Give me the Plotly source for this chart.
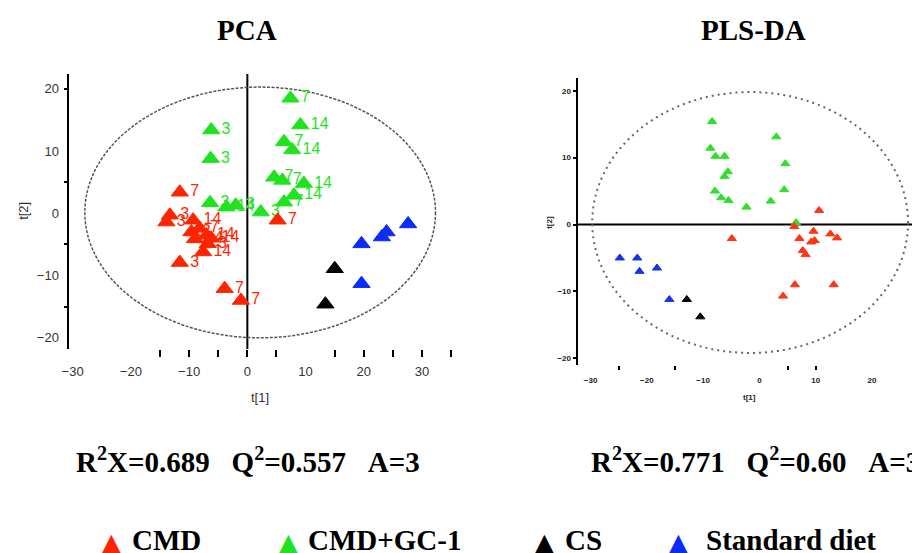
import plotly.graph_objects as go

W, H = 912, 553

# ---- colours ----
RED, GREEN, BLACK, BLUE = "#ff2400", "#1fe31f", "#000000", "#0a2cf5"

# ---- PCA scores (t[1], t[2]) with day labels ----
pca_cmd_x = [-11.6, -13.3, -13.9, -9.3, -9.6, -9.0, -7.0, -6.8, -7.6, -11.6, -3.9, -1.1, 5.2, -8.2, -6.2]
pca_cmd_y = [3.4, -0.3, -1.4, -1.1, -3.0, -4.1, -3.5, -4.9, -6.2, -7.9, -12.1, -14.0, -1.1, -2.4, -4.0]
pca_cmd_lbl = ["7", "3", "3", "14", "3", "14", "14", "3", "14", "3", "7", "7", "7", "7", "14"]

pca_gc_x = [-6.2, -6.3, -6.4, 2.3, -2.0, 7.4, 6.3, 4.6, 6.0, 6.3, 9.1, 7.7, 9.7, 8.0, -3.6]
pca_gc_y = [13.4, 8.8, 1.7, 0.2, 1.3, 18.5, 11.5, 5.8, 5.3, 1.8, 14.2, 10.2, 4.8, 2.9, 1.0]
pca_gc_lbl = ["3", "3", "3", "3", "3", "7", "7", "7", "7", "7", "14", "14", "14", "14", "14"]

pca_cs_x = [15.0, 13.4]
pca_cs_y = [-8.9, -14.6]

pca_std_x = [19.6, 23.1, 23.9, 27.6, 19.6]
pca_std_y = [-4.9, -3.8, -3.0, -1.7, -11.3]

# ---- PLS-DA scores ----
pls_cmd_x = [-4.9, 10.6, 6.2, 7.1, 9.6, 9.2, 9.8, 12.6, 13.8, 7.7, 8.2, 6.3, 4.2, 13.2]
pls_cmd_y = [-2.1, 2.1, -0.3, -2.1, -1.0, -2.6, -2.4, -1.4, -2.0, -3.9, -4.5, -9.0, -10.7, -9.0]

pls_gc_x = [-8.4, 3.0, -8.7, -7.8, -6.2, 4.6, -5.6, -6.2, -7.9, -6.8, -5.5, -2.3, 2.0, 4.4, 6.5]
pls_gc_y = [15.4, 13.1, 11.4, 10.2, 10.2, 9.1, 7.9, 7.2, 5.0, 4.0, 3.6, 2.6, 3.5, 5.2, 0.3]

pls_cs_x = [-12.9, -10.5]
pls_cs_y = [-11.2, -13.8]

pls_std_x = [-24.8, -21.7, -21.3, -18.2, -16.0]
pls_std_y = [-5.0, -5.0, -7.0, -6.5, -11.2]

# ---- axes / ellipses ----
pca_xlabels = [-30, -20, -10, 0, 10, 20, 30]
pca_xmarks = [-15, -10, -5, 0, 5, 15, 20, 25, 30, 35]
pca_ylabels = [-20, -10, 0, 10, 20]
pca_ymarks = [20, 5, -5, -15]
pca_xrange = [-30.7, 35.4]
pca_yrange = [-21.8, 22.4]
pca_ellipse = dict(x0=-27.9, x1=32.3, y0=-20.0, y1=20.3)

pls_xlabels = [-30, -20, -10, 0, 10, 20]
pls_xmarks = [-25, -15, 5, 10]
pls_ylabels = [-20, -10, 0, 10, 20]
pls_xrange = [-32.3, 27.1]
pls_yrange = [-21.0, 21.9]
pls_ellipse = dict(x0=-29.7, x1=26.4, y0=-19.2, y1=19.8)

stats_pca = "R<sup>2</sup>X=0.689\u00a0\u00a0\u00a0Q<sup>2</sup>=0.557\u00a0\u00a0\u00a0A=3"
stats_pls = "R<sup>2</sup>X=0.771\u00a0\u00a0\u00a0Q<sup>2</sup>=0.60\u00a0\u00a0\u00a0A=3"

legend_items = [("CMD", RED), ("CMD+GC-1", GREEN), ("CS", BLACK), ("Standard diet", BLUE)]
legend_tri_px = [105, 284, 542, 677]
legend_txt_px = [124, 301, 560, 702]


def px(xp):
    return xp / W


def py(yp):
    return (H - yp) / H


fig = go.Figure()

LBL_FONT = "Liberation Sans, Arial, sans-serif"


def pca_trace(x, y, color, labels=None, size=15):
    kw = dict(x=x, y=y, xaxis="x", yaxis="y", showlegend=False,
              marker=dict(symbol="triangle-up", size=size, color=color,
                          line=dict(color=color, width=1)))
    if labels is not None:
        kw.update(mode="markers+text", text=labels, textposition="middle right",
                  textfont=dict(family=LBL_FONT, size=16, color=color))
    else:
        kw.update(mode="markers")
    return go.Scatter(**kw)


fig.add_trace(pca_trace(pca_gc_x, pca_gc_y, GREEN, pca_gc_lbl))
fig.add_trace(pca_trace(pca_cmd_x, pca_cmd_y, RED, pca_cmd_lbl))
fig.add_trace(pca_trace(pca_cs_x, pca_cs_y, BLACK))
fig.add_trace(pca_trace(pca_std_x, pca_std_y, BLUE))

for xs, ys, c in [(pls_gc_x, pls_gc_y, "#2fe02a"), (pls_cmd_x, pls_cmd_y, "#ff3414"),
                  (pls_cs_x, pls_cs_y, BLACK), (pls_std_x, pls_std_y, "#1530f0")]:
    fig.add_trace(go.Scatter(x=xs, y=ys, xaxis="x2", yaxis="y2", mode="markers",
                             showlegend=False,
                             marker=dict(symbol="triangle-up", size=8, color=c,
                                         line=dict(color=c, width=1))))

# empty traces so the overlay tick axes are drawn
fig.add_trace(go.Scatter(x=[None], y=[None], xaxis="x3", yaxis="y3", showlegend=False))
fig.add_trace(go.Scatter(x=[None], y=[None], xaxis="x4", yaxis="y2", showlegend=False))

pca_dom_x = [px(62), px(450)]
pca_dom_y = [py(349), py(74)]
pls_dom_x = [px(575), 1.0]
pls_dom_y = [py(365), py(78)]

TICKF = dict(family=LBL_FONT, size=13, color="#333333")
TICKF2 = dict(family=LBL_FONT, size=8, color="#222222", weight="bold")

common = dict(showgrid=False, zeroline=False, fixedrange=True)

fig.update_layout(
    width=W, height=H, margin=dict(l=0, r=0, t=0, b=0),
    paper_bgcolor="white", plot_bgcolor="rgba(0,0,0,0)",
    xaxis=dict(domain=pca_dom_x, range=pca_xrange, anchor="y", tickmode="array",
               tickvals=pca_xlabels, ticks="", showline=False, tickfont=TICKF,
               ticklabelstandoff=13, **common),
    xaxis3=dict(overlaying="x", anchor="y", range=pca_xrange, tickmode="array",
                tickvals=pca_xmarks, ticks="outside", ticklen=7, tickwidth=2,
                tickcolor="black", showticklabels=False, showline=False, **common),
    yaxis=dict(domain=pca_dom_y, range=pca_yrange, anchor="x", tickmode="array",
               tickvals=pca_ylabels, ticks="", showline=True, linewidth=2,
               linecolor="black", tickfont=TICKF, ticklabelstandoff=5, **common),
    yaxis3=dict(overlaying="y", anchor="x", range=pca_yrange, tickmode="array",
                tickvals=pca_ymarks, ticks="outside", ticklen=4, tickwidth=2,
                tickcolor="black", showticklabels=False, showline=False, **common),
    xaxis2=dict(domain=pls_dom_x, range=pls_xrange, anchor="y2", tickmode="array",
                tickvals=pls_xlabels, ticks="", showline=False, tickfont=TICKF2,
                ticklabelstandoff=9, **common),
    xaxis4=dict(overlaying="x2", anchor="y2", range=pls_xrange, tickmode="array",
                tickvals=pls_xmarks, ticks="outside", ticklen=4, tickwidth=2,
                tickcolor="black", showticklabels=False, showline=False, **common),
    yaxis2=dict(domain=pls_dom_y, range=pls_yrange, anchor="x2", tickmode="array",
                tickvals=pls_ylabels, ticks="outside", ticklen=3, tickwidth=1.5,
                tickcolor="black", showline=True, linewidth=2, linecolor="black",
                tickfont=TICKF2, **common),
)

# confidence ellipses and zero lines
fig.add_shape(type="circle", xref="x", yref="y", **pca_ellipse,
              line=dict(color="#555555", width=1.5, dash="3px,1.5px"), layer="below")
fig.add_shape(type="circle", xref="x2", yref="y2", **pls_ellipse,
              line=dict(color="#666666", width=2, dash="2px,4px"), layer="below")
fig.add_shape(type="line", xref="x", yref="y domain", x0=0, x1=0, y0=0, y1=1,
              line=dict(color="black", width=2), layer="below")
fig.add_shape(type="line", xref="x2 domain", yref="y2", x0=0, x1=1, y0=0, y1=0,
              line=dict(color="black", width=2), layer="below")

SERIF = "Liberation Serif, Times New Roman, serif"
ann = []
ann.append(dict(x=px(242), y=py(30), text="<b>PCA</b>",
                font=dict(family=SERIF, size=29, color="black")))
ann.append(dict(x=px(752), y=py(30), text="<b>PLS-DA</b>",
                font=dict(family=SERIF, size=29, color="black")))
ann.append(dict(x=px(243), y=py(460), text="<b>" + stats_pca + "</b>",
                font=dict(family=SERIF, size=29, color="black")))
ann.append(dict(x=px(586), y=py(460), text="<b>" + stats_pls + "</b>", xanchor="left",
                font=dict(family=SERIF, size=29, color="black")))
# axis titles
ann.append(dict(x=px(255), y=py(397), text="t[1]", font=dict(family=LBL_FONT, size=13, color="#333333")))
ann.append(dict(x=px(17), y=py(211), text="t[2]", textangle=-90,
                font=dict(family=LBL_FONT, size=13, color="#333333")))
ann.append(dict(x=px(748), y=py(397), text="<b>t[1]</b>", font=dict(family=LBL_FONT, size=8, color="#222222")))
ann.append(dict(x=px(547), y=py(222), text="<b>t[2]</b>", textangle=-90,
                font=dict(family=LBL_FONT, size=8, color="#222222")))
# group key
for (name, col), tx, lx in zip(legend_items, legend_tri_px, legend_txt_px):
    ann.append(dict(x=px(tx), y=py(542), text="\u25B2",
                    font=dict(family="DejaVu Sans", size=27, color=col)))
    ann.append(dict(x=px(lx), y=py(540), text="<b>" + name + "</b>", xanchor="left",
                    font=dict(family=SERIF, size=29, color="black")))

for a in ann:
    a.setdefault("xanchor", "center")
    a.update(xref="paper", yref="paper", yanchor="middle", showarrow=False)
fig.update_layout(annotations=ann)

fig.write_html("out.html")
